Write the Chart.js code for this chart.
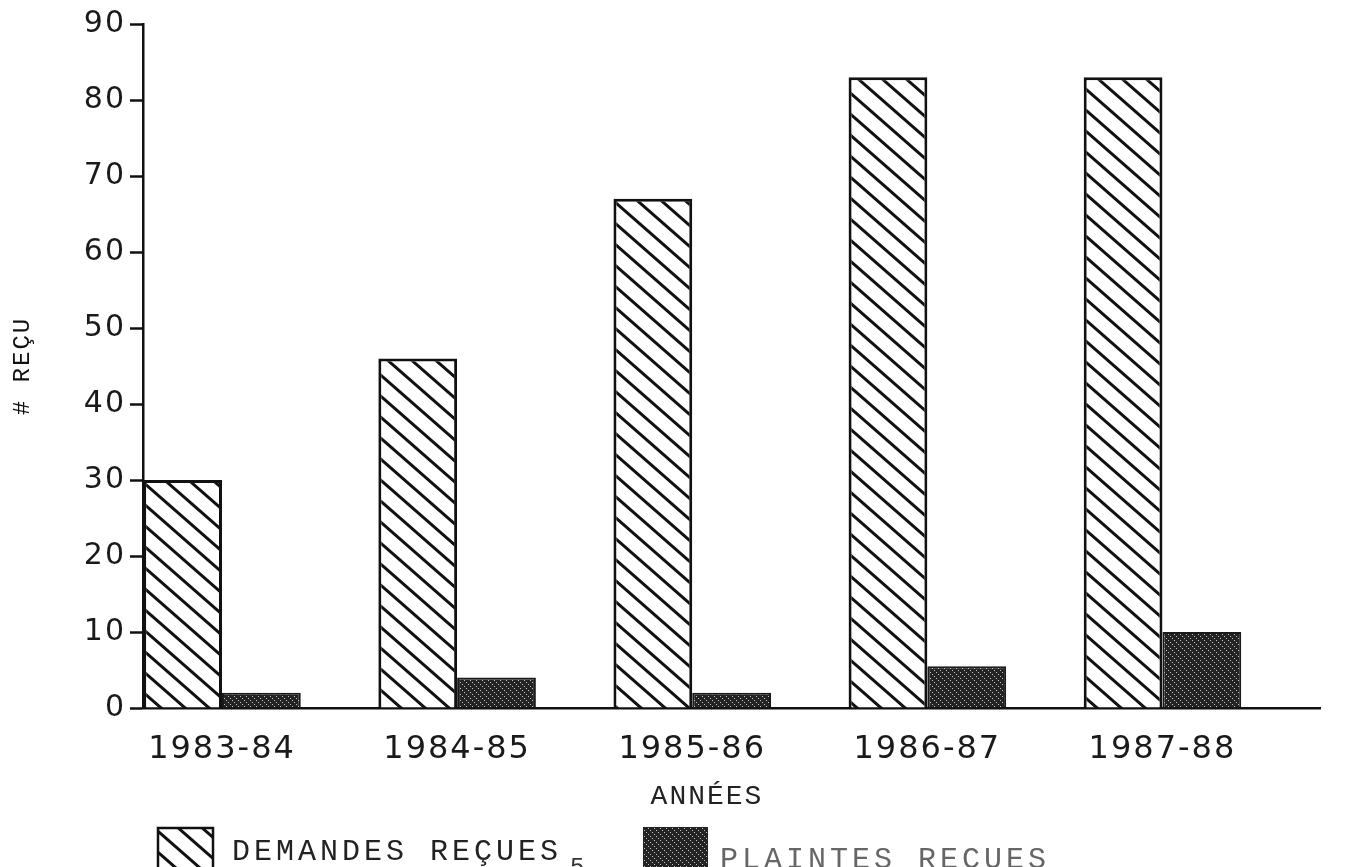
<!DOCTYPE html>
<html>
<head>
<meta charset="utf-8">
<script src="https://cdn.jsdelivr.net/npm/chart.js@4"></script>
<style>
  html, body { margin: 0; padding: 0; background: #fff; }
</style>
</head>
<body>
<canvas id="chart1" width="1362" height="867"></canvas>
<script>
// données
var annees = ['1983-84', '1984-85', '1985-86', '1986-87', '1987-88'];
var demandes = [30, 46, 67, 83, 83];
var plaintes = [2, 4, 2, 5.5, 10];
var yTicks = [0, 10, 20, 30, 40, 50, 60, 70, 80, 90];
var series = ['DEMANDES REÇUES', 'PLAINTES REÇUES'];
var titreY = '# REÇU';
var titreX = 'ANNÉES';
var pageNo = '5';

// hachures diagonales
function hachures() {
  var w = 24, h = 21;
  var c = document.createElement('canvas');
  c.width = w; c.height = h;
  var g = c.getContext('2d');
  g.fillStyle = '#fff';
  g.fillRect(0, 0, w, h);
  g.strokeStyle = '#111';
  g.lineWidth = 3;
  g.beginPath();
  for (var k = -1; k <= 1; k++) {
    g.moveTo(-w, -h + k * h);
    g.lineTo(2 * w, 2 * h + k * h);
  }
  g.stroke();
  return g.createPattern(c, 'repeat');
}

// trame pointillée foncée
function trame() {
  var c = document.createElement('canvas');
  c.width = 24; c.height = 24;
  var g = c.getContext('2d');
  g.fillStyle = '#232323';
  g.fillRect(0, 0, 24, 24);
  g.fillStyle = '#c4c4c4';
  for (var y = 0; y < 24; y++) {
    for (var x = 0; x < 24; x++) {
      if ((x * 7 + y * 11 + x * y * 3) % 6 === 0) g.fillRect(x, y, 1, 1);
    }
  }
  return g.createPattern(c, 'repeat');
}

var motifs = [hachures(), trame()];

var legende = {
  id: 'legende',
  beforeDraw: function (chart) {
    chart.ctx.letterSpacing = '2px';
  },
  afterDraw: function (chart) {
    var ctx = chart.ctx;
    ctx.save();
    ctx.letterSpacing = '2px';
    ctx.fillStyle = '#222';
    ctx.font = '28px "Liberation Mono"';
    ctx.textAlign = 'center';
    ctx.textBaseline = 'alphabetic';
    ctx.fillText(titreX, 707, 804);

    ctx.textAlign = 'left';
    ctx.letterSpacing = '4px';
    ctx.font = '30px "Liberation Mono"';
    // boîte 1
    ctx.fillStyle = motifs[0];
    ctx.fillRect(158, 828, 55, 60);
    ctx.strokeStyle = '#111';
    ctx.lineWidth = 2.5;
    ctx.strokeRect(158, 828, 55, 60);
    ctx.fillStyle = '#222';
    ctx.fillText(series[0], 232, 860);
    // boîte 2
    ctx.fillStyle = motifs[1];
    ctx.fillRect(643, 827, 65, 60);
    ctx.fillStyle = '#666';
    ctx.fillText(series[1], 720, 868);
    ctx.font = '24px "Liberation Mono"';
    ctx.letterSpacing = '0px';
    ctx.fillStyle = '#333';
    ctx.fillText(pageNo, 570, 874);
    ctx.restore();
  }
};

var ctx1 = document.getElementById('chart1').getContext('2d');
var chart1 = new Chart(ctx1, {
  type: 'bar',
  data: {
    datasets: [{
      label: series[0],
      data: demandes.map(function (v, i) { return { x: i, y: v }; }),
      backgroundColor: motifs[0],
      borderColor: '#111',
      borderWidth: 3,
      borderSkipped: 'bottom',
      categoryPercentage: 0.67,
      barPercentage: 1
    }, {
      label: series[1],
      data: plaintes.map(function (v, i) { return { x: i, y: v }; }),
      backgroundColor: motifs[1],
      borderColor: '#1a1a1a',
      borderWidth: 2,
      borderSkipped: 'bottom',
      categoryPercentage: 0.67,
      barPercentage: 1
    }]
  },
  options: {
    responsive: false,
    devicePixelRatio: 1,
    animation: false,
    layout: { padding: { left: 0, right: 42, top: 24, bottom: 0 } },
    plugins: {
      legend: { display: false },
      tooltip: { enabled: false }
    },
    scales: {
      x: {
        type: 'linear',
        offset: false,
        min: -0.336,
        max: 4.67,
        afterBuildTicks: function (s) {
          s.ticks = annees.map(function (a, i) { return { value: i }; });
        },
        ticks: {
          callback: function (v) { return annees[v]; },
          font: { family: 'DejaVu Sans', size: 32 },
          color: '#1a1a1a',
          padding: 14,
          maxRotation: 0,
          autoSkip: false
        },
        grid: { display: false, offset: false },
        border: { display: true, color: '#111', width: 2.5 },
        afterFit: function (s) { s.height = 867 - 708; }
      },
      y: {
        min: 0,
        max: 90,
        afterBuildTicks: function (s) {
          s.ticks = yTicks.map(function (v) { return { value: v }; });
        },
        ticks: {
          font: { family: 'DejaVu Sans', size: 30 },
          color: '#1a1a1a',
          padding: 4
        },
        grid: {
          drawOnChartArea: false,
          drawTicks: true,
          tickLength: 13,
          tickColor: '#111',
          tickWidth: 2.5
        },
        border: { color: '#111', width: 2.5 },
        title: {
          display: true,
          text: titreY,
          font: { family: 'Liberation Mono', size: 24 },
          color: '#111',
          padding: { top: 8, bottom: 0 }
        },
        afterFit: function (s) { s.width = 143; }
      }
    }
  },
  plugins: [legende]
});
</script>
</body>
</html>
